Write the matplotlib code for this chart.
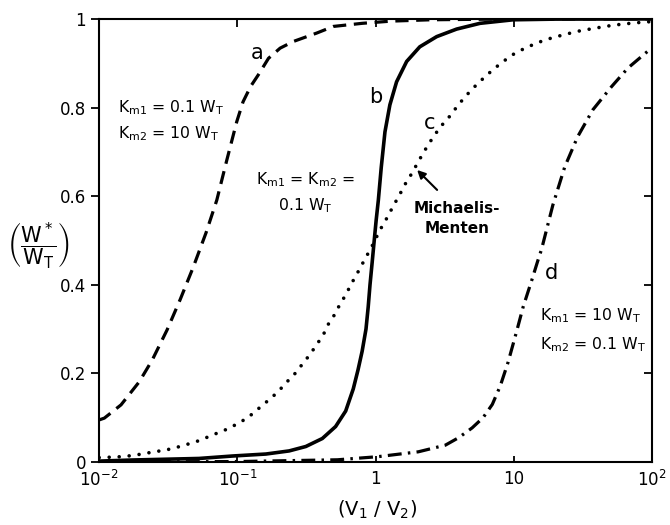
import matplotlib
matplotlib.use("Agg")
import matplotlib.pyplot as plt

# W*/WT versus V1/V2 for four pairs of Michaelis constants
# a: Km1 = 0.1 WT, Km2 = 10 WT
a_x = [0.01, 0.0109, 0.0144, 0.0195, 0.0242, 0.031, 0.0385, 0.048, 0.0593, 0.071, 0.084,
       0.099, 0.110, 0.125, 0.142, 0.168, 0.204, 0.254, 0.375, 0.495, 0.8, 1.3, 2.5,
       10.0, 100.0]
a_y = [0.095, 0.099, 0.129, 0.181, 0.23, 0.298, 0.366, 0.44, 0.517, 0.591, 0.682,
       0.768, 0.813, 0.848, 0.874, 0.911, 0.934, 0.949, 0.968, 0.983, 0.99, 0.995, 0.998,
       1.0, 1.0]

# b: Km1 = Km2 = 0.1 WT
b_x = [0.01, 0.0174, 0.0528, 0.0921, 0.161, 0.237, 0.313, 0.412, 0.514, 0.608, 0.69,
       0.747, 0.80, 0.853, 0.885, 0.912, 0.945, 0.975, 1.01, 1.048, 1.10, 1.17, 1.27,
       1.42, 1.68, 2.09, 2.77, 3.86, 5.7, 9.9, 20.0, 100.0]
b_y = [0.002, 0.0045, 0.008, 0.0135, 0.018, 0.025, 0.035, 0.053, 0.08, 0.115, 0.165,
       0.208, 0.25, 0.30, 0.35, 0.40, 0.45, 0.495, 0.545, 0.591, 0.665, 0.745, 0.806,
       0.858, 0.904, 0.937, 0.96, 0.977, 0.99, 0.998, 0.9995, 1.0]

# c: Michaelis-Menten
c_x = [0.01, 0.0125, 0.0144, 0.0169, 0.0204, 0.025, 0.0304, 0.0364, 0.0435, 0.0514,
       0.0607, 0.0725, 0.0857, 0.101, 0.119, 0.138, 0.163, 0.195, 0.224, 0.262, 0.336,
       0.419, 0.451, 0.504, 0.553, 0.608, 0.668, 0.738, 0.812, 0.873, 0.912, 1.079,
       1.205, 1.346, 1.504, 1.652, 1.845, 2.04, 2.28, 2.62, 2.98, 3.46, 3.97, 4.56, 5.25,
       6.03, 7.11, 8.4, 9.93, 12.06, 15.07, 18.8, 24.2, 30.1, 38.7, 48.3, 60.3, 75.3, 100.0]
c_y = [0.010, 0.011, 0.012, 0.0142, 0.018, 0.023, 0.027, 0.033, 0.04, 0.047,
       0.056, 0.066, 0.075, 0.087, 0.10, 0.117, 0.136, 0.157, 0.178, 0.20, 0.243,
       0.287, 0.309, 0.332, 0.356, 0.377, 0.402, 0.426, 0.45, 0.468, 0.478, 0.524,
       0.550, 0.578, 0.605, 0.629, 0.653, 0.678, 0.704, 0.734, 0.758, 0.781, 0.806, 0.828,
       0.848, 0.866, 0.886, 0.904, 0.92, 0.934, 0.947, 0.957, 0.966, 0.973, 0.979, 0.984,
       0.988, 0.991, 0.994]

# d: Km1 = 10 WT, Km2 = 0.1 WT
d_x = [0.01, 0.1, 0.53, 1.04, 2.04, 3.2, 4.0, 5.0, 6.0, 7.0, 8.0, 9.1, 10.5, 11.7,
       13.5, 15.0, 15.9, 19.2, 23.4, 29.0, 37.4, 51.0, 67.0, 100.0]
d_y = [0.0, 0.001, 0.005, 0.012, 0.023, 0.038, 0.055, 0.077, 0.10, 0.13, 0.172, 0.225,
       0.295, 0.35, 0.41, 0.456, 0.48, 0.58, 0.666, 0.734, 0.795, 0.847, 0.889, 0.935]

y_ticks = [0, 0.2, 0.4, 0.6, 0.8, 1]
y_ticklabels = ["0", "0.2", "0.4", "0.6", "0.8", "1"]
x_ticks = [0.01, 0.1, 1, 10, 100]
x_ticklabels = [r"10$^{-2}$", r"10$^{-1}$", "1", "10", r"10$^{2}$"]

plt.rcParams["mathtext.default"] = "regular"
plt.rcParams["lines.scale_dashes"] = False

fig = plt.figure(figsize=(6.7, 5.25), dpi=100)
ax = fig.add_axes([0.148, 0.12, 0.825, 0.844])

ax.plot(a_x, a_y, color="black", lw=2.3, linestyle=(0, (9.5, 5.5)))
ax.plot(b_x, b_y, color="black", lw=2.6, solid_capstyle="butt")
ax.plot(c_x, c_y, color="black", lw=2.6, linestyle=(0, (0.01, 7.2)),
        dash_capstyle="round")
ax.plot(d_x, d_y, color="black", lw=2.3, linestyle=(0, (10, 4.5, 1.8, 4.5)))

ax.set_xscale("log")
ax.set_xlim(0.01, 100)
ax.set_ylim(0, 1)
ax.set_xticks(x_ticks)
ax.set_xticklabels(x_ticklabels)
ax.set_yticks(y_ticks)
ax.set_yticklabels(y_ticklabels)
ax.minorticks_off()
ax.tick_params(axis="both", labelsize=12, width=1.3)
ax.tick_params(axis="y", direction="out", length=6, right=False)
ax.tick_params(axis="x", direction="in", length=4, top=False, pad=6)
for sp in ax.spines.values():
    sp.set_linewidth(1.5)

# inward ticks along the right and top edges
ax_r = ax.secondary_yaxis("right")
ax_r.set_yticks(y_ticks[1:-1])
ax_r.tick_params(direction="in", length=6, width=1.3, labelright=False)
ax_r.spines["right"].set_visible(False)
ax_t = ax.secondary_xaxis("top")
ax_t.set_xticks([0.1, 1, 10])
ax_t.minorticks_off()
ax_t.tick_params(direction="in", length=6, width=1.3, labeltop=False)
ax_t.spines["top"].set_visible(False)

ax.text(0.139, 0.923, "a", fontsize=15, ha="center", va="center")
ax.text(1.0, 0.824, "b", fontsize=15, ha="center", va="center")
ax.text(2.48, 0.765, "c", fontsize=15, ha="center", va="center")
ax.text(18.9, 0.427, "d", fontsize=15, ha="center", va="center")

fs = 11.3
ax.text(0.0137, 0.80, r"K$_{m1}$ = 0.1 W$_T$", fontsize=fs, va="center")
ax.text(0.0137, 0.742, r"K$_{m2}$ = 10 W$_T$", fontsize=fs, va="center")
ax.text(0.31, 0.637, r"K$_{m1}$ = K$_{m2}$ =", fontsize=fs, ha="center", va="center")
ax.text(0.31, 0.578, r"0.1 W$_T$", fontsize=fs, ha="center", va="center")
ax.text(15.5, 0.33, r"K$_{m1}$ = 10 W$_T$", fontsize=fs, va="center")
ax.text(15.5, 0.264, r"K$_{m2}$ = 0.1 W$_T$", fontsize=fs, va="center")

ax.text(3.9, 0.573, "Michaelis-", fontsize=11, ha="center", va="center",
        fontweight="bold")
ax.text(3.9, 0.528, "Menten", fontsize=11, ha="center", va="center",
        fontweight="bold")
ax.annotate("", xy=(2.0, 0.659), xytext=(2.79, 0.614),
            arrowprops=dict(arrowstyle="-|>", color="black", lw=1.5,
                            mutation_scale=12, shrinkA=0, shrinkB=0))

fig.text(0.057, 0.53, r"$\left(\dfrac{W^*}{W_T}\right)$", fontsize=15,
         ha="center", va="center")
fig.text(0.563, 0.028, r"(V$_1$ / V$_2$)", fontsize=14, ha="center", va="center")

fig.savefig("out.png", dpi=100)
